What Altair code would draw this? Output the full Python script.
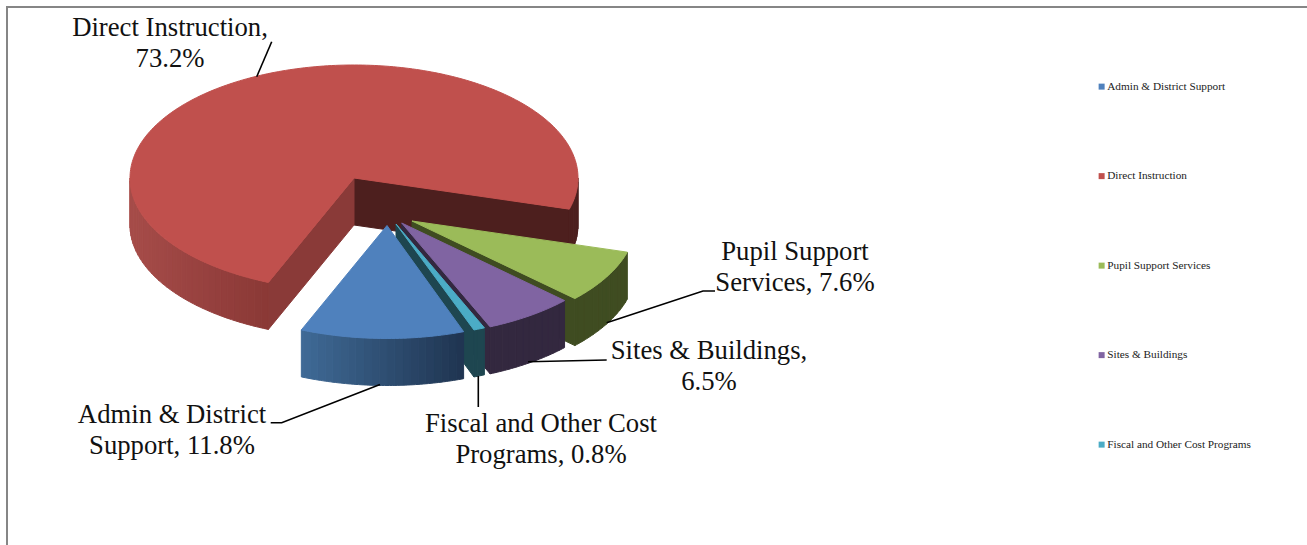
import math
import altair as alt

# Spending shares, in the pie's clockwise drawing order
names = ["Admin & District Support", "Direct Instruction", "Pupil Support Services",
         "Sites & Buildings", "Fiscal and Other Cost Programs"]
shares = [11.8, 73.2, 7.6, 6.5, 0.8]
top_colors = ["#4f81bd", "#c0504d", "#9bbb59", "#8064a2", "#4bacc6"]
label_lines = [["Admin & District", "Support, 11.8%"], ["Direct Instruction,", "73.2%"],
               ["Pupil Support", "Services, 7.6%"], ["Sites & Buildings,", "6.5%"],
               ["Fiscal and Other Cost", "Programs, 0.8%"]]
label_centers = [(172, 415), (170, 28), (795, 252), (709, 351), (541, 424)]
label_gap = 30.5

# Wall shades: (left, right) ends for the curved rim, and the flat cut wall
rim_shades = [("#3f6a96", "#1f3450"), ("#a64c49", "#8a3836"), ("#3f4c21", "#3f4c21"),
              ("#33283f", "#33283f"), ("#1e4650", "#1e4650")]
cut_shades = [None, ("#8a3a38", "#4d1f1e"), "#3f4c21", "#33283f", "#1e4650"]

# Tilted-disc geometry, in page pixels
RX, RY, DEPTH = 224, 113, 47
START_ANGLE = 70.0
apexes = [(387, 225.5), (354, 178), (412, 221), (401.7, 223), (396, 224)]
draw_order = [1, 2, 3, 4, 0]

leaders = [
    [(271.7, 41.7), (256.7, 76.7)],
    [(715, 291), (703, 291), (606.7, 322.7)],
    [(606.7, 360), (528, 361.7)],
    [(478.3, 376), (478.3, 407)],
    [(380, 384.5), (281.7, 422.7), (270.7, 422.7)],
]


def rim(apex, t):
    a = math.radians(t)
    return (apex[0] + RX * math.cos(a), apex[1] + RY * math.sin(a))


def arc_points(apex, t0, t1, step=1.0):
    n = max(2, int(abs(t1 - t0) / step) + 1)
    return [rim(apex, t0 + (t1 - t0) * i / n) for i in range(n + 1)]


def polygon(points, key):
    ring = [list(p) for p in points] + [list(points[0])]
    return {"type": "Feature", "properties": {"key": key},
            "geometry": {"type": "Polygon", "coordinates": [ring]}}


def mix(c0, c1, f):
    a = [int(c0[i:i + 2], 16) for i in (1, 3, 5)]
    b = [int(c1[i:i + 2], 16) for i in (1, 3, 5)]
    return "#" + "".join(f"{round(x + (y - x) * f):02x}" for x, y in zip(a, b))


def drop(points):
    return [(x, y + DEPTH) for x, y in points]


def rim_wall(apex, t0, t1, shades):
    """Visible part of the curved rim, as narrow strips shaded left to right."""
    feats = []
    t = t0
    xs = [rim(apex, t0)[0], rim(apex, t1)[0]]
    lo, hi = min(xs), max(xs)
    while t < t1 - 1e-6:
        nxt = min(t + 2.0, t1)
        top = arc_points(apex, t, nxt, 1.0)
        mid = (rim(apex, t)[0] + rim(apex, nxt)[0]) / 2
        f = (mid - lo) / (hi - lo) if hi > lo else 0
        feats.append(polygon(top + drop(top)[::-1], mix(shades[0], shades[1], f)))
        t = nxt
    return feats


# Work out each slice's angular span from its share
spans = []
angle = START_ANGLE
for share in shares:
    sweep = share * 3.6
    spans.append((angle, angle + sweep))
    angle += sweep

features = []
for idx in draw_order:
    apex, (t0, t1) = apexes[idx], spans[idx]
    pa, pb = rim(apex, t0), rim(apex, t1)
    cut = cut_shades[idx]
    if idx == 1:
        # The large slice shows both cut walls and the rim on both sides of the back
        features.append(polygon([apex, rim(apex, t1), *drop([rim(apex, t1), apex])], cut[1]))
        features += rim_wall(apex, 360, t1, (cut[1], cut[1]))
        features.append(polygon([apex, pa, *drop([pa, apex])], cut[0]))
        features += rim_wall(apex, t0, 180, rim_shades[idx])
    else:
        if cut:
            features.append(polygon([apex, pb, *drop([pb, apex])], cut))
        features += rim_wall(apex, t0, t1, rim_shades[idx])
    features.append(polygon([apex] + arc_points(apex, t0, t1), names[idx]))

# Colour scale: series names for the legend, then every wall shade used
shades = []
for f in features:
    k = f["properties"]["key"]
    if k not in names and k not in shades:
        shades.append(k)
domain = names + shades
palette = top_colors + shades

disc_data = alt.InlineData(values={"type": "FeatureCollection", "features": features},
                           format=alt.DataFormat(property="features"))
page_projection = dict(type="identity", scale=1, translate=[0, 0])

pie = alt.Chart(disc_data).mark_geoshape(strokeWidth=1, opacity=1, fillOpacity=1, strokeOpacity=1).encode(
    color=alt.Color(
        "properties.key:N",
        scale=alt.Scale(domain=domain, range=palette),
        legend=alt.Legend(
            values=names, title=None, orient="none", legendX=1096, legendY=81,
            symbolType="square", symbolSize=36, symbolStrokeWidth=0, symbolOpacity=1,
            labelFont="Liberation Serif", labelFontSize=11.25, labelColor="#222222",
            labelOffset=0, rowPadding=77.5, labelLimit=300,
        ),
    ),
    stroke=alt.Stroke("properties.key:N", scale=alt.Scale(domain=domain, range=palette), legend=None),
).project(**page_projection)

leader_features = [
    {"type": "Feature", "properties": {},
     "geometry": {"type": "LineString", "coordinates": [list(p) for p in line]}}
    for line in leaders
]
leader_data = alt.InlineData(values={"type": "FeatureCollection", "features": leader_features},
                             format=alt.DataFormat(property="features"))
leader_lines = alt.Chart(leader_data).mark_geoshape(
    filled=False, stroke="#000000", strokeWidth=1.6
).project(**page_projection)

rows = []
for lines, (cx, cy) in zip(label_lines, label_centers):
    for i, text in enumerate(lines):
        rows.append({"text": text, "x": cx, "y": cy + i * label_gap})
labels = alt.Chart(alt.Data(values=rows)).mark_text(
    font="Liberation Serif", fontSize=26.7, color="#111111", align="center", baseline="middle"
).encode(
    longitude="x:Q", latitude="y:Q", text="text:N"
).project(**page_projection)

frame_top = alt.Chart(alt.Data(values=[{"a": 0}])).mark_rule(color="#868686", strokeWidth=2).encode(
    x=alt.value(6), x2=alt.value(1307), y=alt.value(7)
)
frame_left = alt.Chart(alt.Data(values=[{"a": 0}])).mark_rule(color="#868686", strokeWidth=2).encode(
    x=alt.value(7), y=alt.value(6), y2=alt.value(545)
)

chart = alt.layer(frame_top, frame_left, pie, leader_lines, labels).properties(
    width=1307, height=545, padding=0, autosize=alt.AutoSizeParams(type="none"), background="#ffffff"
).configure_view(stroke=None)

chart.save("out.html", embed_options={"renderer": "svg", "actions": False})
